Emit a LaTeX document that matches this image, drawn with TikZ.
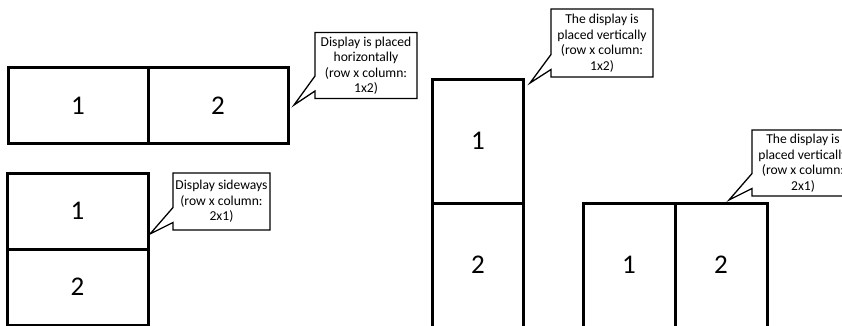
\documentclass[tikz,border=0pt]{standalone}
\usepackage{fontspec}
\setmainfont{Carlito}
\usetikzlibrary{positioning}
\usetikzlibrary{shapes.callouts}

\begin{document}
\begin{tikzpicture}
			[x=1pt,y=-1pt,
			 cell/.style={rectangle,draw,line width=3pt,outer sep=0pt,font=\fontsize{27}{27}\selectfont},
			 hcell/.style={cell,minimum width=140pt,minimum height=76pt},
			 vcell/.style={cell,minimum width=91pt,minimum height=124pt},
			 note/.style={rectangle callout,draw,line width=1.3pt,fill=white,align=center,
			   inner sep=1pt,callout pointer width=15pt,font=\fontsize{13.6}{15.5}\selectfont},
		   node distance=0]
			\clip (0,0) rectangle (842,325);
			% horizontal 1x2
			\node (h1) [hcell] at (78,105.5) {1};
			\node (h2) [hcell,right=of h1] {2};
			% sideways 2x1
			\node (s1) [hcell,minimum width=141pt] at (77.5,211) {1};
			\node (s2) [hcell,minimum width=141pt,below=of s1] {2};
			% vertical 1x2
			\node (v1) [vcell] at (478,141) {1};
			\node (v2) [vcell,below=of v1] {2};
			% vertical 2x1
			\node (w1) [vcell,minimum width=92pt] at (629,265) {1};
			\node (w2) [vcell,minimum width=92pt,right=of w1] {2};

			\coordinate (t1) at (294,105);
			\coordinate (t2) at (530,83);
			\coordinate (t3) at (729,200);
			\coordinate (t4) at (150,234);
			\node (c1) [note,minimum width=102pt,minimum height=66pt,callout absolute pointer={(t1)}]
			  at (366,65.5) {Display is placed\\horizontally\\(row x column:\\1x2)};
			\node (c2) [note,minimum width=102pt,minimum height=68pt,callout absolute pointer={(t2)}]
			  at (602,43) {The display is\\placed vertically\\(row x column:\\1x2)};
			\node (c3) [note,minimum width=102pt,minimum height=66pt,callout absolute pointer={(t3)}]
			  at (803,163) {The display is\\placed vertically\\(row x column:\\2x1)};
			\node (c4) [note,minimum width=97pt,minimum height=57pt,callout absolute pointer={(t4)}]
			  at (221.5,201.5) {Display sideways\\(row x column:\\2x1)};
		\end{tikzpicture}
\end{document}
